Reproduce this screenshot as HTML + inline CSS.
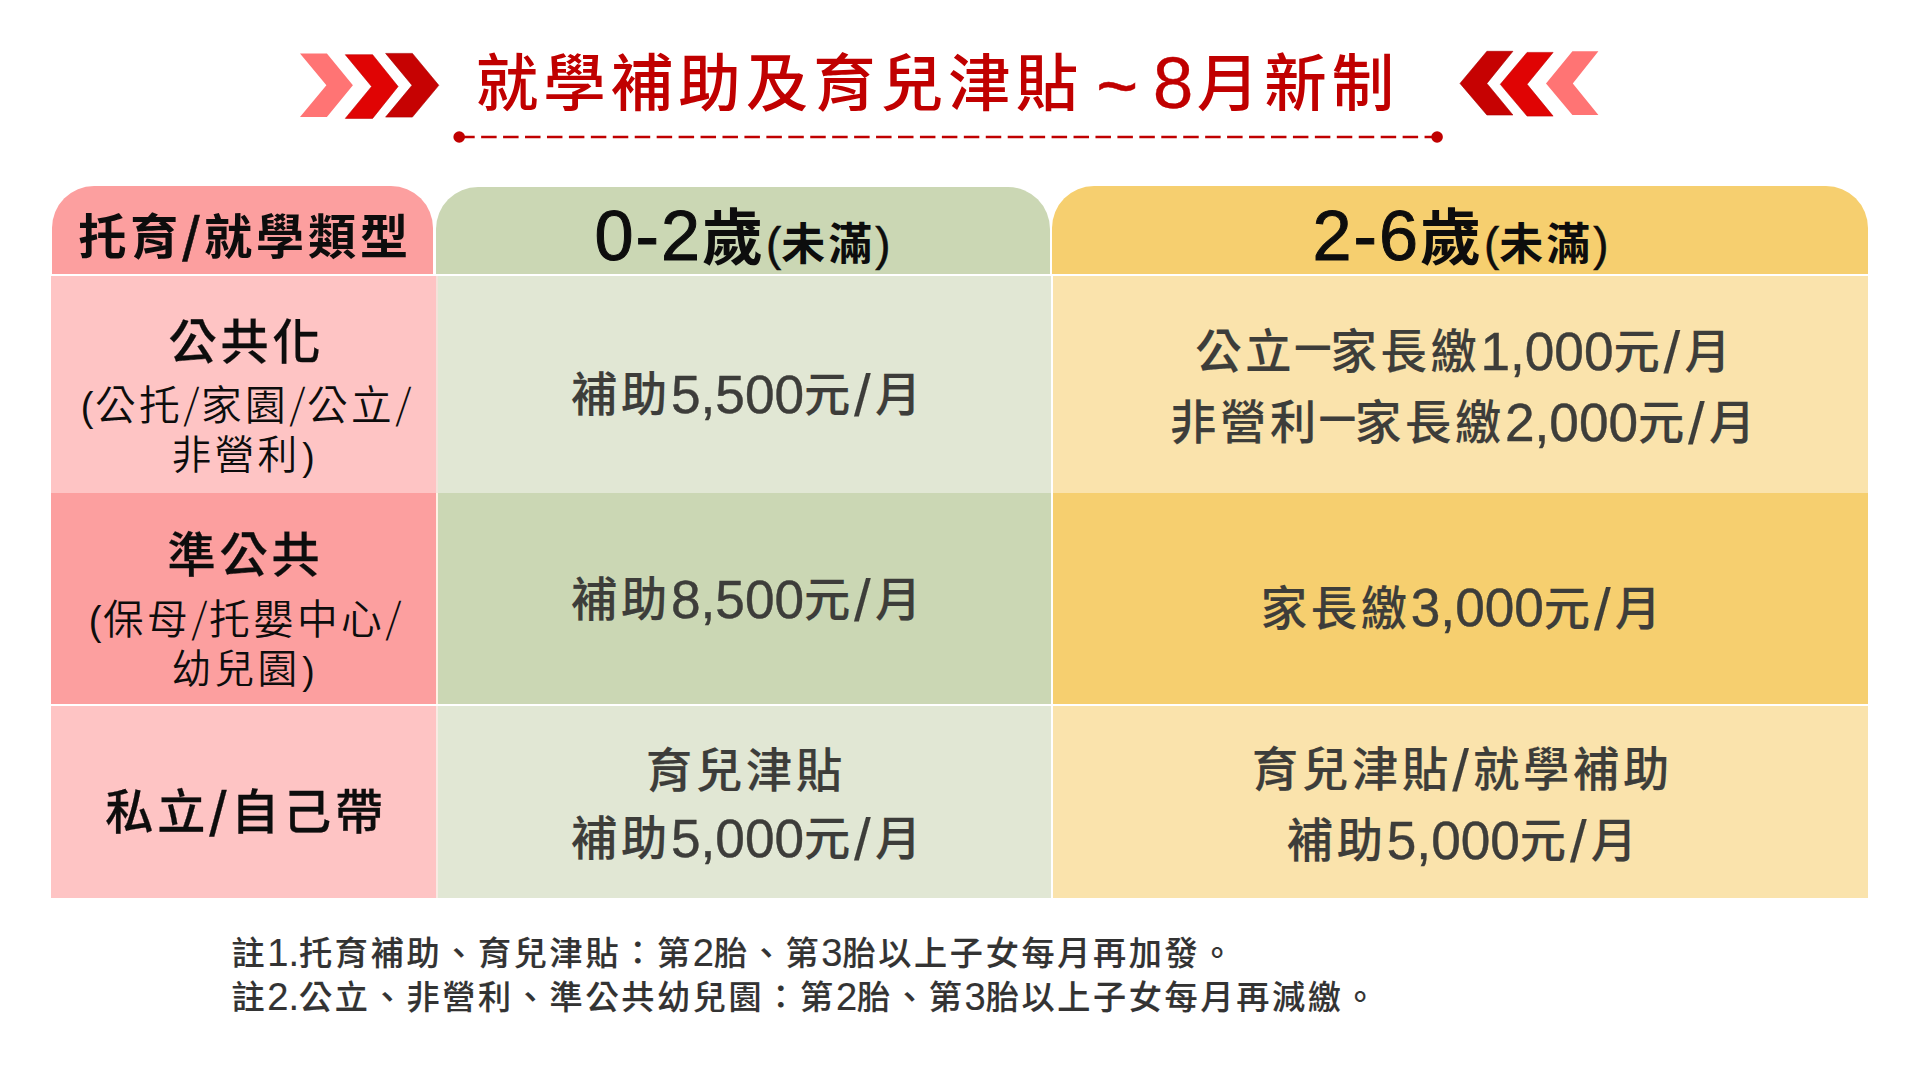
<!DOCTYPE html>
<html lang="zh-Hant">
<head>
<meta charset="utf-8">
<title>就學補助及育兒津貼～8月新制</title>
<style>
html,body{margin:0;padding:0;}
body{width:1920px;height:1074px;background:#fff;position:relative;overflow:hidden;font-family:"Liberation Sans", "Noto Sans CJK TC", sans-serif;}
.c{position:absolute;}
.t{position:absolute;white-space:nowrap;line-height:1;text-align:center;transform:translateX(-50%);}
.l{position:absolute;white-space:nowrap;line-height:1;}
svg{position:absolute;left:0;top:0;}
.t span,.l span{line-height:0;}
.n{font-size:1.15em;font-weight:400;letter-spacing:0;-webkit-text-stroke:0.45px currentColor;position:relative;top:0.03em;}
.fn{font-size:1.15em;font-weight:400;letter-spacing:0;position:relative;top:0.02em;}
.p{font-size:0.75em;font-weight:400;letter-spacing:0;display:inline-block;transform:translateY(-2.5px) scale(1.25,1.32);transform-origin:50% 72%;margin:0 3px;}
.s2{font-size:0.62em;font-weight:400;letter-spacing:0;display:inline-block;transform:translateY(-4px) skewX(-12deg) scaleY(2.15);transform-origin:50% 78%;margin:0 6px 0 5px;}
.nb{font-size:1.15em;letter-spacing:0.01em;}
.s{font-size:1.3em;font-weight:400;vertical-align:-0.08em;letter-spacing:0.07em;}
.sb{font-size:1.3em;font-weight:400;vertical-align:-0.11em;letter-spacing:0.07em;}
.sh{-webkit-text-stroke:0.5px currentColor;}
.hn{font-size:1.15em;font-weight:400;letter-spacing:2px;-webkit-text-stroke:1px currentColor;}
.tn{font-size:1.17em;font-weight:400;letter-spacing:0;-webkit-text-stroke:0.3px currentColor;position:relative;left:-3.5px;top:2px;}
.sm{font-size:0.72em;letter-spacing:0.07em;margin-left:-2px;}
.sm .hn{font-size:1.04em;letter-spacing:0;-webkit-text-stroke:0.5px currentColor;}
.sm .hn:first-child{margin-right:0;}
.d{display:inline-block;width:35px;text-align:center;letter-spacing:0;font-weight:700;-webkit-text-stroke:1px currentColor;position:relative;top:-0.13em;}
.tl{font-size:1.15em;margin:0 13px;vertical-align:-0.07em;-webkit-text-stroke:0.5px currentColor;}
</style>
</head>
<body>
<svg width="1920" height="180" viewBox="0 0 1920 180">
<polygon points="300,53.4 326.9,53.4 352.9,85.3 326.9,117.1 300,117.1 326.4,85.3" fill="#FF7474"/>
<polygon points="345.3,54.7 372.6,54.7 398.1,86.5 372.6,118.4 345.3,118.4 371.6,86.5" fill="#E00404" stroke="#C20000" stroke-width="0.6"/>
<polygon points="385.6,53.4 412.4,53.4 438.8,85.3 412.4,117.1 385.6,117.1 412,85.3" fill="#C60202" stroke="#A80000" stroke-width="0.6"/>
<polygon points="1460,83.4 1486.9,51.3 1512.9,51.3 1486.9,83.4 1512.9,115 1486.9,115" fill="#C60202" stroke="#A80000" stroke-width="0.6"/>
<polygon points="1500.3,84.3 1527.1,52.4 1553.1,52.4 1527.1,84.3 1553.1,116.1 1527.1,116.1" fill="#E00404" stroke="#C20000" stroke-width="0.6"/>
<polygon points="1546,83.4 1572.4,51.3 1598.4,51.3 1572.8,83.4 1598.4,115 1572.4,115" fill="#FF7474"/>
<line x1="459.2" y1="137" x2="1437" y2="137" stroke="#C00000" stroke-width="2.3" stroke-dasharray="15.5 6.44"/>
<circle cx="459.2" cy="137" r="5.8" fill="#C00000"/>
<circle cx="1437.1" cy="137" r="5.8" fill="#C00000"/>
</svg>
<div class="c" style="left:436px;top:276px;width:2px;height:217px;background:#F3E2DA;"></div>
<div class="c" style="left:436px;top:493px;width:2px;height:211px;background:#FFF1E4;"></div>
<div class="c" style="left:436px;top:706px;width:2px;height:192px;background:#F8EAE3;"></div>
<div class="c" style="left:52px;top:186px;width:381px;height:88px;background:#FC9F9F;border-radius:42px 42px 0 0;"></div>
<div class="c" style="left:51px;top:276px;width:385px;height:217px;background:#FEC4C4;"></div>
<div class="c" style="left:51px;top:493px;width:385px;height:211px;background:#FC9F9F;"></div>
<div class="c" style="left:51px;top:706px;width:385px;height:192px;background:#FEC4C4;"></div>
<div class="c" style="left:436px;top:187px;width:614px;height:87px;background:#CBD7B4;border-radius:42px 42px 0 0;"></div>
<div class="c" style="left:438px;top:276px;width:613px;height:217px;background:#E1E7D4;"></div>
<div class="c" style="left:438px;top:493px;width:613px;height:211px;background:#CBD7B4;"></div>
<div class="c" style="left:438px;top:706px;width:613px;height:192px;background:#E1E7D4;"></div>
<div class="c" style="left:1052px;top:186px;width:816px;height:88px;background:#F6CF6F;border-radius:42px 42px 0 0;"></div>
<div class="c" style="left:1053px;top:276px;width:815px;height:217px;background:#FAE3AC;"></div>
<div class="c" style="left:1053px;top:493px;width:815px;height:211px;background:#F6CF6F;"></div>
<div class="c" style="left:1053px;top:706px;width:815px;height:192px;background:#FAE3AC;"></div>
<div class="t" id="title" style="left:937.5px;top:52.5px;font-size:62.44px;font-weight:500;color:#C00000;letter-spacing:5.06px;">就學補助及育兒津貼<span class="tl">~</span><span class="tn">8</span>月新制</div>
<div class="t" id="h1" style="left:245.1px;top:212.6px;font-size:48.1px;font-weight:700;color:#0d0d0d;letter-spacing:3.9px;">托育<span class="sb sh">/</span>就學類型</div>
<div class="t" id="h2" style="left:742.5px;top:208.7px;font-size:61.05px;font-weight:700;color:#0d0d0d;letter-spacing:4.95px;"><span class="hn">0-2</span>歲<span class="sm"><span class="hn">(</span>未滿<span class="hn">)</span></span></div>
<div class="t" id="h3" style="left:1460.5px;top:208.7px;font-size:61.05px;font-weight:700;color:#0d0d0d;letter-spacing:4.95px;"><span class="hn">2-6</span>歲<span class="sm"><span class="hn">(</span>未滿<span class="hn">)</span></span></div>
<div class="t" id="r1a" style="left:246.5px;top:317.5px;font-size:48.1px;font-weight:500;color:#0d0d0d;letter-spacing:3.9px;-webkit-text-stroke:0.28px currentColor;">公共化</div>
<div class="t" id="r1b" style="left:246px;top:386.4px;font-size:40.7px;font-weight:350;color:#0d0d0d;letter-spacing:3.3px;"><span class="p">(</span>公托<span class="s2">/</span>家園<span class="s2">/</span>公立<span class="s2">/</span></div>
<div class="t" id="r1c" style="left:244px;top:435.6px;font-size:39.77px;font-weight:350;color:#0d0d0d;letter-spacing:3.23px;">非營利<span class="p">)</span></div>
<div class="t" id="r1d" style="left:748px;top:372.1px;font-size:46.25px;font-weight:500;color:#3d3d3a;letter-spacing:3.75px;-webkit-text-stroke:0.15px currentColor;">補助<span class="n">5,500</span>元<span class="s">/</span>月</div>
<div class="t" id="r1e" style="left:1464.9px;top:329.3px;font-size:46.25px;font-weight:500;color:#3d3d3a;letter-spacing:3.75px;-webkit-text-stroke:0.15px currentColor;">公立<span class="d">─</span>家長繳<span class="n">1,000</span>元<span class="s">/</span>月</div>
<div class="t" id="r1f" style="left:1464.5px;top:400.3px;font-size:46.25px;font-weight:500;color:#3d3d3a;letter-spacing:3.75px;-webkit-text-stroke:0.15px currentColor;">非營利<span class="d">─</span>家長繳<span class="n">2,000</span>元<span class="s">/</span>月</div>
<div class="t" id="r2a" style="left:245.6px;top:531.3px;font-size:48.1px;font-weight:500;color:#0d0d0d;letter-spacing:3.9px;-webkit-text-stroke:0.28px currentColor;">準公共</div>
<div class="t" id="r2b" style="left:245px;top:600.3px;font-size:40.7px;font-weight:350;color:#0d0d0d;letter-spacing:3.3px;"><span class="p">(</span>保母<span class="s2">/</span>托嬰中心<span class="s2">/</span></div>
<div class="t" id="r2c" style="left:244px;top:649.9px;font-size:39.77px;font-weight:350;color:#0d0d0d;letter-spacing:3.23px;">幼兒園<span class="p">)</span></div>
<div class="t" id="r2d" style="left:748px;top:577.2px;font-size:46.25px;font-weight:500;color:#3d3d3a;letter-spacing:3.75px;-webkit-text-stroke:0.15px currentColor;">補助<span class="n">8,500</span>元<span class="s">/</span>月</div>
<div class="t" id="r2e" style="left:1462.8px;top:585.6px;font-size:46.25px;font-weight:500;color:#3d3d3a;letter-spacing:3.75px;-webkit-text-stroke:0.15px currentColor;">家長繳<span class="n">3,000</span>元<span class="s">/</span>月</div>
<div class="t" id="r3a" style="left:246.1px;top:787.5px;font-size:48.1px;font-weight:500;color:#0d0d0d;letter-spacing:3.9px;-webkit-text-stroke:0.28px currentColor;">私立<span class="sb">/</span>自己帶</div>
<div class="t" id="r3b" style="left:746px;top:747.6px;font-size:46.25px;font-weight:500;color:#3d3d3a;letter-spacing:3.75px;-webkit-text-stroke:0.15px currentColor;">育兒津貼</div>
<div class="t" id="r3c" style="left:748px;top:816.4px;font-size:46.25px;font-weight:500;color:#3d3d3a;letter-spacing:3.75px;-webkit-text-stroke:0.15px currentColor;">補助<span class="n">5,000</span>元<span class="s">/</span>月</div>
<div class="t" id="r3d" style="left:1462.6px;top:747.4px;font-size:46.25px;font-weight:500;color:#3d3d3a;letter-spacing:3.75px;-webkit-text-stroke:0.15px currentColor;">育兒津貼<span class="s">/</span>就學補助</div>
<div class="t" id="r3e" style="left:1463.8px;top:818px;font-size:46.25px;font-weight:500;color:#3d3d3a;letter-spacing:3.75px;-webkit-text-stroke:0.15px currentColor;">補助<span class="n">5,000</span>元<span class="s">/</span>月</div>
<div class="l" id="n1" style="left:231.5px;top:937.3px;font-size:33.12px;font-weight:500;color:#333333;letter-spacing:2.68px;-webkit-text-stroke:0.15px currentColor;">註<span class="fn">1.</span>托育補助、育兒津貼：第<span class="fn">2</span>胎、第<span class="fn">3</span>胎以上子女每月再加發。</div>
<div class="l" id="n2" style="left:231.5px;top:981px;font-size:33.12px;font-weight:500;color:#333333;letter-spacing:2.68px;-webkit-text-stroke:0.15px currentColor;">註<span class="fn">2.</span>公立、非營利、準公共幼兒園：第<span class="fn">2</span>胎、第<span class="fn">3</span>胎以上子女每月再減繳。</div>
</body>
</html>
